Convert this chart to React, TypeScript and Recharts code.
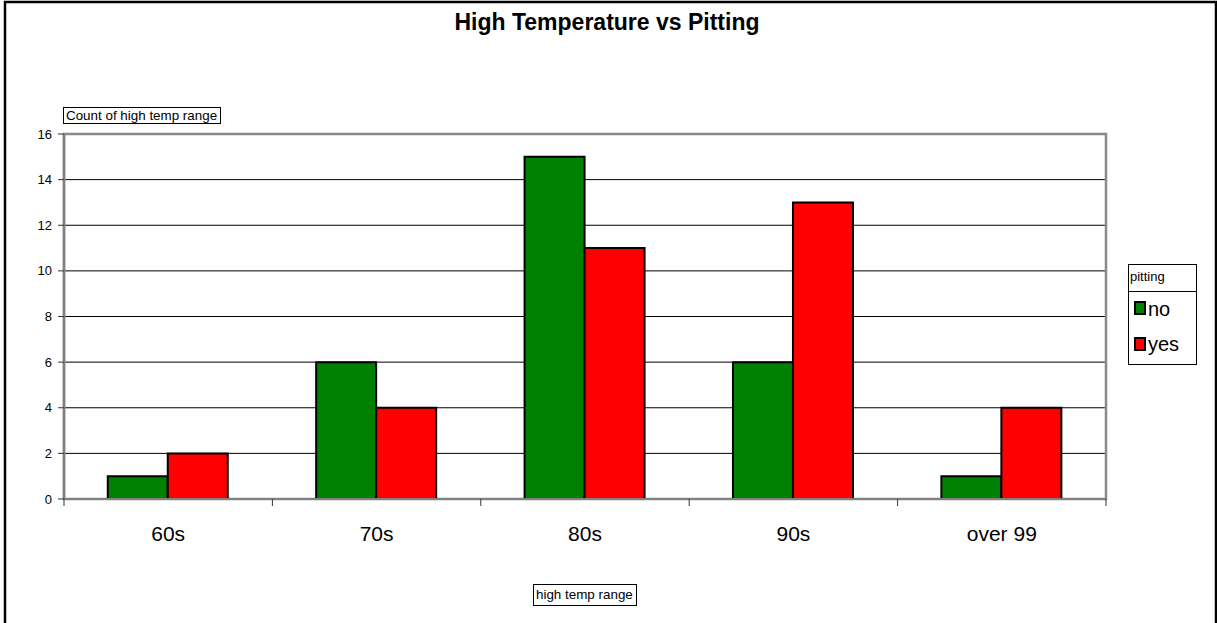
import React from 'react'
import { BarChart, Bar, XAxis, YAxis, CartesianGrid, ReferenceArea } from 'recharts'

const categories = ['60s', '70s', '80s', '90s', 'over 99']
const noCounts = [1, 6, 15, 6, 1]
const yesCounts = [2, 4, 11, 13, 4]
const yTicks = [0, 2, 4, 6, 8, 10, 12, 14, 16]
const seriesNames = ['no', 'yes']
const seriesColors = ['#008000', '#FF0000']

const data = categories.map((c, i) => ({ range: c, no: noCounts[i], yes: yesCounts[i] }))

const FONT = '"Liberation Sans", Arial, sans-serif'

// category label plus the boundary tick marks Excel draws between groups
const CategoryTick = (props: any) => {
  const { x, y, payload, index, visibleTicksCount, width } = props
  const count = visibleTicksCount || categories.length
  const half = (typeof width === 'number' ? width : 1042) / count / 2
  return (
    <g>
      <line x1={x - half} x2={x - half} y1={y - 27} y2={y - 20} stroke="#333" strokeWidth={1} />
      {index === count - 1 && (
        <line x1={x + half} x2={x + half} y1={y - 27} y2={y - 20} stroke="#333" strokeWidth={1} />
      )}
      <text x={x} y={y} dy="0.71em" textAnchor="middle" fontSize={21} fill="#000" fontFamily={FONT}>
        {payload.value}
      </text>
    </g>
  )
}

export default function App() {
  return (
    <div style={{ position: 'absolute', left: 0, top: 0, width: 1217, height: 623, overflow: 'hidden', background: '#fff', fontFamily: FONT }}>
      <BarChart
        width={1217}
        height={623}
        data={data}
        margin={{ top: 134, right: 111, bottom: 94, left: 14 }}
        barCategoryGap="21%"
        barGap={0}
      >
        <CartesianGrid vertical={false} stroke="#000" strokeWidth={1} />
        <XAxis
          dataKey="range"
          height={30}
          tickLine={false}
          tickSize={0}
          tickMargin={27}
          axisLine={{ stroke: '#808080', strokeWidth: 2 }}
          tick={<CategoryTick />}
          interval={0}
        />
        <YAxis
          width={50}
          domain={[0, 16]}
          ticks={yTicks}
          interval={0}
          tickSize={6}
          tickMargin={6}
          axisLine={{ stroke: '#808080', strokeWidth: 2.5 }}
          tickLine={{ stroke: '#333' }}
          tick={{ fill: '#000', fontSize: 13, fontFamily: FONT }}
        />
        <Bar dataKey="no" fill={seriesColors[0]} stroke="#000" strokeWidth={2} isAnimationActive={false} />
        <Bar dataKey="yes" fill={seriesColors[1]} stroke="#000" strokeWidth={2} isAnimationActive={false} />
        <ReferenceArea y1={0} y2={16} fill="none" fillOpacity={0} stroke="#8a8a8a" strokeWidth={2.5} ifOverflow="visible" />
      </BarChart>

      <svg width={1217} height={623} style={{ position: 'absolute', left: 0, top: 0, pointerEvents: 'none' }}>
        <rect x={5} y={2} width={1211} height={640} fill="none" stroke="#000" strokeWidth={2.5} />
        <text x={607} y={30} textAnchor="middle" fontSize={23} fontWeight="bold" fontFamily={FONT} fill="#000">
          High Temperature vs Pitting
        </text>

        <rect x={63.5} y={107.5} width={157} height={16} fill="#fff" stroke="#000" strokeWidth={1} />
        <text x={66} y={120} fontSize={13.4} fontFamily={FONT} fill="#000">Count of high temp range</text>

        <rect x={533.5} y={584.5} width={103} height={21} fill="#fff" stroke="#000" strokeWidth={1} />
        <text x={536} y={599} fontSize={13.4} fontFamily={FONT} fill="#000">high temp range</text>

        <rect x={1128.5} y={264.5} width={68} height={100} fill="#fff" stroke="#000" strokeWidth={1} />
        <line x1={1128.5} x2={1196.5} y1={291.5} y2={291.5} stroke="#000" strokeWidth={1} />
        <text x={1130} y={281} fontSize={13} fontFamily={FONT} fill="#000">pitting</text>
        {seriesNames.map((name, i) => (
          <g key={name}>
            <rect x={1135} y={302 + i * 36} width={10} height={12} fill={seriesColors[i]} stroke="#000" strokeWidth={2} />
            <text x={1148} y={316 + i * 35} fontSize={20} fontFamily={FONT} fill="#000">{name}</text>
          </g>
        ))}
      </svg>
    </div>
  )
}
